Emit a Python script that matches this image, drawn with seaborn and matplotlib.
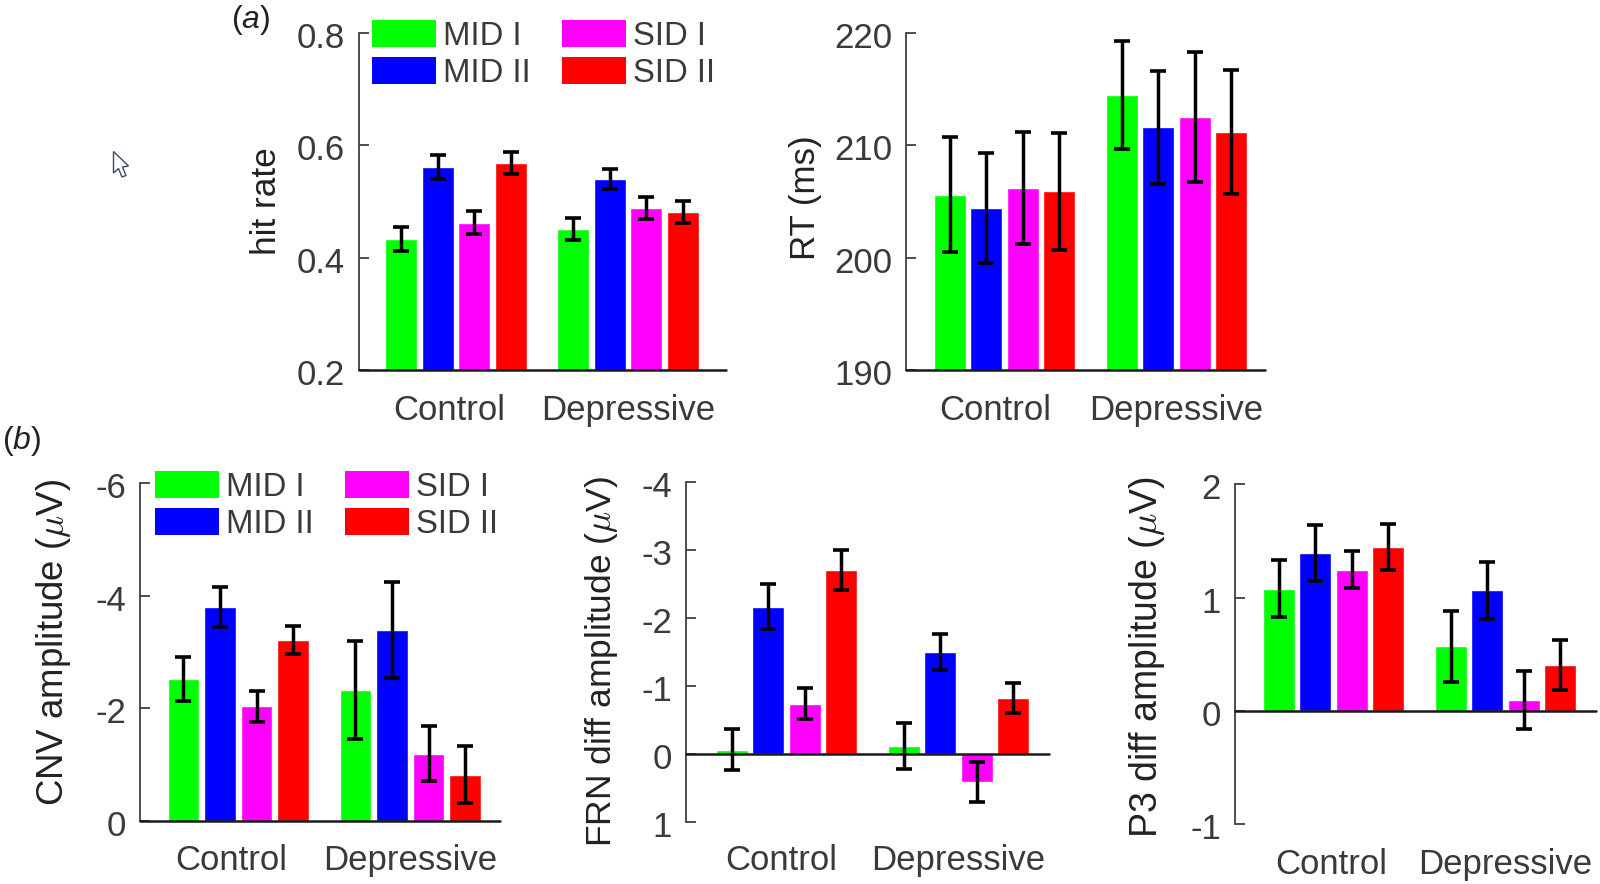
import matplotlib
matplotlib.use("Agg")
import matplotlib.pyplot as plt
from matplotlib.patches import Patch, Polygon
from matplotlib.transforms import ScaledTranslation
import pandas as pd
import seaborn as sns

sns.set_theme(style="white")
plt.rcParams['font.family'] = ['Liberation Sans', 'DejaVu Sans']
plt.rcParams['mathtext.fontset'] = 'custom'
plt.rcParams['mathtext.it'] = 'Liberation Sans:italic'
plt.rcParams['mathtext.rm'] = 'Liberation Sans'

groups = ["Control", "Depressive"]
conditions = ["MID I", "MID II", "SID I", "SID II"]
colors = ["#00FF00", "#0000FF", "#FF00FF", "#FF0000"]

hit_rate = [0.433, 0.561, 0.462, 0.568, 0.451, 0.539, 0.488, 0.481]
hit_rate_err = [0.021, 0.021, 0.020, 0.020, 0.020, 0.018, 0.019, 0.020]
rt = [205.6, 204.4, 206.2, 205.9, 214.5, 211.6, 212.5, 211.2]
rt_err = [5.1, 4.9, 5.0, 5.2, 4.8, 5.0, 5.8, 5.5]
cnv = [-2.51, -3.80, -2.03, -3.21, -2.33, -3.39, -1.19, -0.82]
cnv_err = [0.39, 0.355, 0.28, 0.25, 0.87, 0.855, 0.485, 0.50]
frn = [-0.06, -2.17, -0.737, -2.71, -0.12, -1.50, 0.417, -0.825]
frn_err = [0.30, 0.33, 0.23, 0.295, 0.34, 0.26, 0.30, 0.225]
p3 = [1.08, 1.39, 1.247, 1.447, 0.57, 1.065, 0.097, 0.406]
p3_err = [0.255, 0.247, 0.162, 0.20, 0.316, 0.25, 0.26, 0.22]

W, H = 1600, 884
TXT = "#3a3a3a"
FS = 25
fig = plt.figure(figsize=(W / 100, H / 100), dpi=100, facecolor="white")


def panel(vals, errs, box, center0, ylim, yticks, yticklabels, ylabel, label_xy, label_fs, pad,
          control_shift, legend_at=None):
    left, right, top, bottom = box
    ax = fig.add_axes([left / W, 1 - bottom / H, (right - left) / W, (bottom - top) / H])
    df = pd.DataFrame({
        "group": [g for g in groups for _ in conditions],
        "cond": conditions * 2,
        "value": vals,
    })
    sns.barplot(data=df, x="group", y="value", hue="cond", order=groups, hue_order=conditions,
                palette=colors, width=0.85, gap=0.13, errorbar=None, legend=False,
                saturation=1, ax=ax, zorder=2)
    for c_i, cont in enumerate(list(ax.containers)):
        for g_i, bar in enumerate(list(cont)):
            idx = g_i * 4 + c_i
            ax.errorbar(bar.get_x() + bar.get_width() / 2, vals[idx], yerr=errs[idx], color="black",
                        elinewidth=2.5, capsize=5.8, capthick=2.6, zorder=4)
    ax.set_xlim((left - center0) / 172, (right - center0) / 172)
    ax.set_ylim(*ylim)
    for s in ["top", "right", "bottom"]:
        ax.spines[s].set_visible(False)
    ax.spines["left"].set_color("#404040")
    ax.spines["left"].set_linewidth(1.3)
    base = 0 if min(ylim) <= 0 else min(ylim)
    ax.axhline(base, color="#1a1a1a", lw=1.8, zorder=3, clip_on=False)
    ax.set_yticks(yticks, yticklabels)
    ax.tick_params(axis="y", direction="in", length=7, width=1.3, color="#404040",
                   labelcolor=TXT, labelsize=FS, pad=10, left=True)
    ax.set_xticks([control_shift / 172, 1], groups)
    ax.tick_params(axis="x", length=0, labelcolor=TXT, labelsize=FS, pad=pad)
    ax.set_xlabel("")
    ax.set_ylabel(ylabel, fontsize=label_fs, color="#222222", math_fontfamily="cm", va="center", ha="center")
    ax.yaxis.set_label_coords(label_xy[0] / W, 1 - label_xy[1] / H, transform=fig.transFigure)
    nudge = ScaledTranslation(0, -2 / 100, fig.dpi_scale_trans)
    for t in ax.get_yticklabels():
        t.set_transform(t.get_transform() + nudge)
    if legend_at is not None:
        handles = [Patch(facecolor=c, edgecolor="none", label=n) for c, n in zip(colors, conditions)]
        ax.legend(handles=handles, ncol=2, loc="upper left",
                  bbox_to_anchor=(legend_at[0] / W, 1 - legend_at[1] / H), bbox_transform=fig.transFigure,
                  frameon=False, fontsize=23.7, labelcolor=TXT, borderaxespad=0, borderpad=0,
                  handlelength=1.95, handleheight=0.88, labelspacing=0.17, handletextpad=0.2,
                  columnspacing=0.95)
    return ax


panel(hit_rate, hit_rate_err, (359, 726, 32.5, 370), 456, (0.2, 0.8), [0.2, 0.4, 0.6, 0.8],
      ["0.2", "0.4", "0.6", "0.8"], "hit rate", (266, 201), 25.4, 17, -6.5, legend_at=(372, 20))
panel(rt, rt_err, (906, 1265, 33, 370), 1004.5, (190, 220), [190, 200, 210, 220],
      ["190", "200", "210", "220"], "RT (ms)", (805, 198), 25.2, 17, -9)
panel(cnv, cnv_err, (140, 500, 483, 820.7), 238.25, (0, -6), [0, -2, -4, -6],
      ["0", "-2", "-4", "-6"], r"CNV amplitude ($\mu$V)", (54, 642), 26.4, 17, -7, legend_at=(155, 471))
panel(frn, frn_err, (686, 1049, 482.3, 821.7), 786.5, (1, -4), [1, 0, -1, -2, -3, -4],
      ["1", "0", "-1", "-2", "-3", "-4"], r"FRN diff amplitude ($\mu$V)", (602, 661), 25.5, 16, -5)
panel(p3, p3_err, (1235, 1596, 484.3, 824.3), 1333.5, (-1, 2), [-1, 0, 1, 2],
      ["-1", "0", "1", "2"], r"P3 diff amplitude ($\mu$V)", (1147, 656.5), 27, 17, -2)

fig.text(251 / W, 1 - 20 / H, r"($a$)", fontsize=23, color="#222222", ha="center", va="center")
fig.text(22 / W, 1 - 441 / H, r"($b$)", fontsize=23, color="#222222", ha="center", va="center")

# Mouse pointer captured in the original screenshot
cursor = [(113.5, 151.5), (113.5, 173), (118.5, 168.5), (122, 177), (126, 175.5), (122.5, 167), (128.5, 166)]
fig.add_artist(Polygon([(x / W, 1 - y / H) for x, y in cursor], closed=True, facecolor="white",
                       edgecolor="#3d4a66", linewidth=1, transform=fig.transFigure))

fig.savefig("out.png", dpi=100, facecolor="white")
